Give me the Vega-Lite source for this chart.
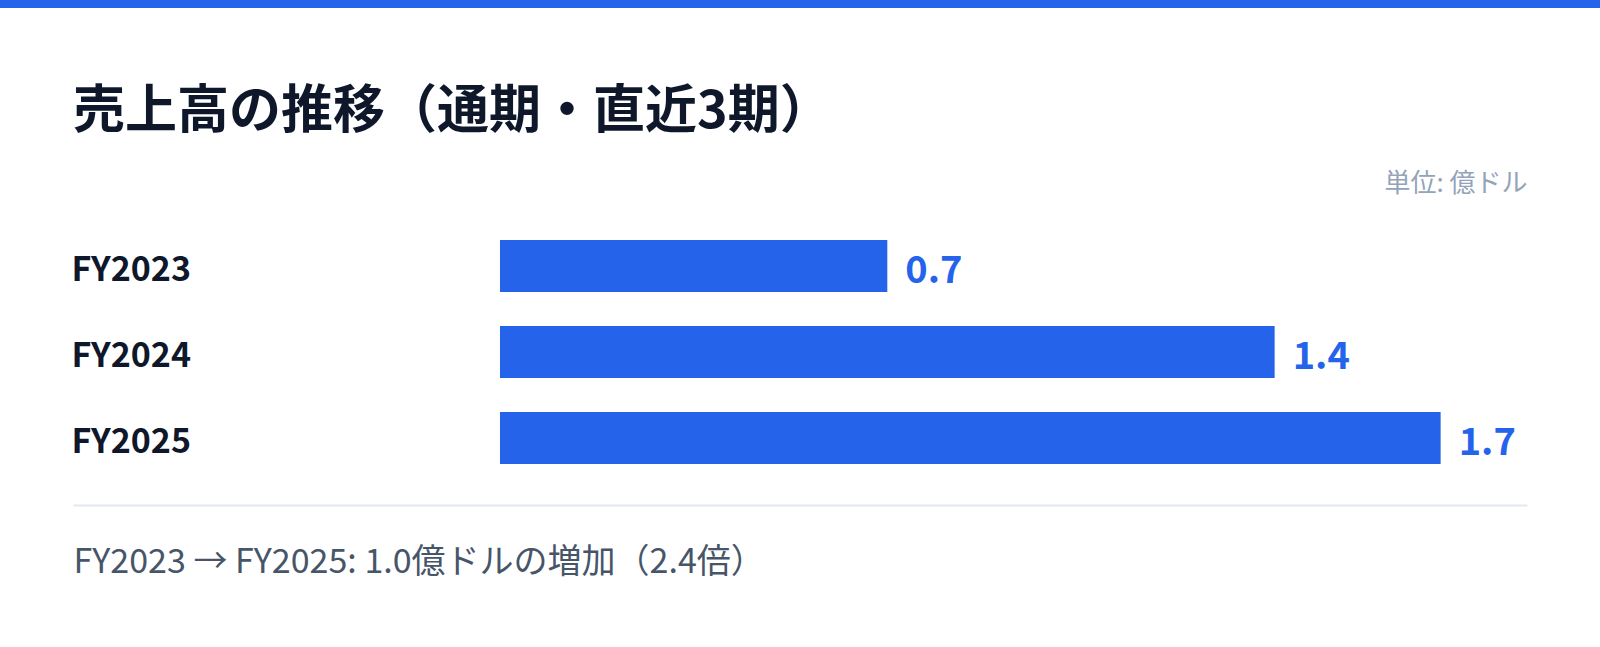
{
  "$schema": "https://vega.github.io/schema/vega-lite/v6.json",
  "padding": {"top": 0, "left": 0, "right": 0, "bottom": 60},
  "background": "#ffffff",
  "spacing": 215,
  "bounds": "flush",
  "center": true,
  "vconcat": [
    {
      "width": 1600,
      "height": 8,
      "data": {"values": [{"part": "stripe"}]},
      "mark": {"type": "rect", "color": "#2563eb"},
      "encoding": {}
    },
    {
      "width": 1454,
      "height": 258,
      "title": {
        "text": "売上高の推移（通期・直近3期）",
        "anchor": "start",
        "frame": "group",
        "font": "Noto Sans CJK JP",
        "fontSize": 52,
        "fontWeight": "bold",
        "color": "#0f172a",
        "baseline": "alphabetic",
        "offset": 30,
        "dy": 40
      },
      "data": {
        "values": [
          {"period": "FY2023", "value": 0.7},
          {"period": "FY2024", "value": 1.4},
          {"period": "FY2025", "value": 1.7}
        ]
      },
      "layer": [
        {
          "mark": {"type": "bar", "color": "#2563eb"},
          "encoding": {
            "y": {
              "field": "period",
              "type": "nominal",
              "sort": null,
              "title": null,
              "scale": {"paddingInner": 0.395, "paddingOuter": 0.1977},
              "axis": {
                "orient": "left",
                "domain": false,
                "ticks": false,
                "tickSize": 0,
                "labelPadding": 2,
                "labelOffset": 5,
                "labelAlign": "left",
                "labelFont": "Noto Sans CJK JP",
                "labelFontSize": 34,
                "labelFontWeight": "bold",
                "labelColor": "#0f172a"
              }
            },
            "x": {
              "field": "value",
              "type": "quantitative",
              "scale": {"domain": [-0.7717, 1.8561], "nice": false, "zero": false},
              "axis": {
                "orient": "bottom",
                "offset": 24,
                "grid": false,
                "ticks": false,
                "labels": false,
                "domain": true,
                "domainColor": "#e2e8f0",
                "domainWidth": 2,
                "title": "FY2023 → FY2025: 1.0億ドルの増加（2.4倍）",
                "titleAnchor": "start",
                "titleAlign": "left",
                "titleX": 0,
                "titleY": 67,
                "titleBaseline": "alphabetic",
                "titleFont": "Noto Sans CJK JP",
                "titleFontSize": 34,
                "titleFontWeight": "normal",
                "titleColor": "#475569"
              }
            },
            "x2": {"datum": 0}
          }
        },
        {
          "mark": {
            "type": "text",
            "align": "left",
            "baseline": "middle",
            "dx": 18,
            "dy": 6,
            "font": "Noto Sans CJK JP",
            "fontSize": 38,
            "fontWeight": "bold",
            "color": "#2563eb"
          },
          "encoding": {
            "y": {"field": "period", "type": "nominal", "sort": null, "title": null},
            "x": {
              "field": "value",
              "type": "quantitative",
              "scale": {"domain": [-0.7717, 1.8561], "nice": false, "zero": false},
              "axis": {
                "orient": "top",
                "grid": false,
                "ticks": false,
                "labels": false,
                "domain": false,
                "title": "単位: 億ドル",
                "titleAnchor": "end",
                "titleAlign": "right",
                "titleY": -32,
                "titleBaseline": "alphabetic",
                "titleFont": "Noto Sans CJK JP",
                "titleFontSize": 26,
                "titleFontWeight": "normal",
                "titleColor": "#94a3b8"
              }
            },
            "text": {"field": "value", "type": "quantitative", "format": ".1f"}
          }
        }
      ],
      "resolve": {"axis": {"x": "independent"}}
    }
  ],
  "config": {"view": {"stroke": null}}
}
